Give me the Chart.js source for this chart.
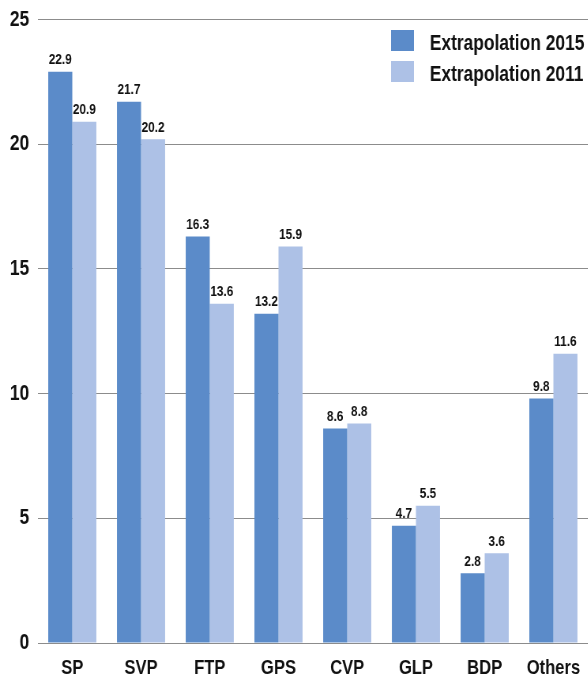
<!DOCTYPE html>
<html><head><meta charset="utf-8">
<script src="https://cdn.jsdelivr.net/npm/chart.js@4.4.0/dist/chart.umd.min.js"></script>
<style>
html,body{margin:0;padding:0;overflow:hidden;background:#fff;width:588px;height:677px}
#wrap{width:744px;height:677px;transform:scale(0.79,1);transform-origin:0 0;}
</style></head><body>
<div id="wrap"><canvas id="c"></canvas></div>
<script>
const categories = ['SP','SVP','FTP','GPS','CVP','GLP','BDP','Others'];
const values2015 = [22.9, 21.7, 16.3, 13.2, 8.6, 4.7, 2.8, 9.8];
const values2011 = [20.9, 20.2, 13.6, 15.9, 8.8, 5.5, 3.6, 11.6];
const seriesNames = ['Extrapolation 2015', 'Extrapolation 2011'];
const yTicks = [0, 5, 10, 15, 20, 25];

const FONT = '"Liberation Sans", Arial, sans-serif';
const colors = ['#5b8bc9', '#adc1e6'];

const valueLabels = {
  id: 'valueLabels',
  afterDatasetsDraw(chart) {
    const ctx = chart.ctx;
    ctx.save();
    ctx.font = 'bold 15px ' + FONT;
    ctx.fillStyle = '#111';
    ctx.textAlign = 'center';
    ctx.textBaseline = 'alphabetic';
    chart.data.datasets.forEach((ds, i) => {
      chart.getDatasetMeta(i).data.forEach((bar, j) => {
        ctx.fillText(ds.data[j].toFixed(1), bar.x, bar.y - 7.5);
      });
    });
    ctx.restore();
  }
};

const customLegend = {
  id: 'customLegend',
  afterDraw(chart) {
    const ctx = chart.ctx;
    ctx.save();
    ctx.font = 'bold 22px ' + FONT;
    ctx.textAlign = 'left';
    ctx.textBaseline = 'alphabetic';
    chart.data.datasets.forEach((ds, i) => {
      const boxTop = 30 + i * 31;
      ctx.fillStyle = ds.backgroundColor;
      ctx.fillRect(495, boxTop, 29, 21);
      ctx.fillStyle = '#111';
      ctx.fillText(ds.label, 544, boxTop + 19.5);
    });
    ctx.restore();
  }
};

new Chart(document.getElementById('c'), {
  type: 'bar',
  data: {
    labels: categories,
    datasets: [
      { label: seriesNames[0], data: values2015, backgroundColor: colors[0], categoryPercentage: 0.7, barPercentage: 1.0 },
      { label: seriesNames[1], data: values2011, backgroundColor: colors[1], categoryPercentage: 0.7, barPercentage: 1.0 }
    ]
  },
  options: {
    responsive: true,
    maintainAspectRatio: false,
    animation: false,
    layout: { padding: { top: 19.5, left: 0, right: 0, bottom: 0 } },
    plugins: { legend: { display: false }, tooltip: { enabled: false } },
    scales: {
      x: {
        grid: { display: false },
        border: { display: false },
        ticks: { color: '#111', font: { family: FONT, size: 21, weight: 'bold' }, padding: 5, maxRotation: 0 },
        afterFit(scale) { scale.height = 34; scale.paddingLeft = 0; scale.paddingRight = 0; }
      },
      y: {
        min: 0, max: 25,
        afterBuildTicks(scale) { scale.ticks = yTicks.map(v => ({ value: v })); },
        grid: { color: '#8c8c8c', lineWidth: 1, drawTicks: false },
        border: { display: false },
        ticks: { color: '#111', font: { family: FONT, size: 22, weight: 'bold' }, padding: 11 },
        afterFit(scale) { scale.width = 48; scale.paddingTop = 0; scale.paddingBottom = 0; }
      }
    }
  },
  plugins: [valueLabels, customLegend]
});
</script>
</body></html>
